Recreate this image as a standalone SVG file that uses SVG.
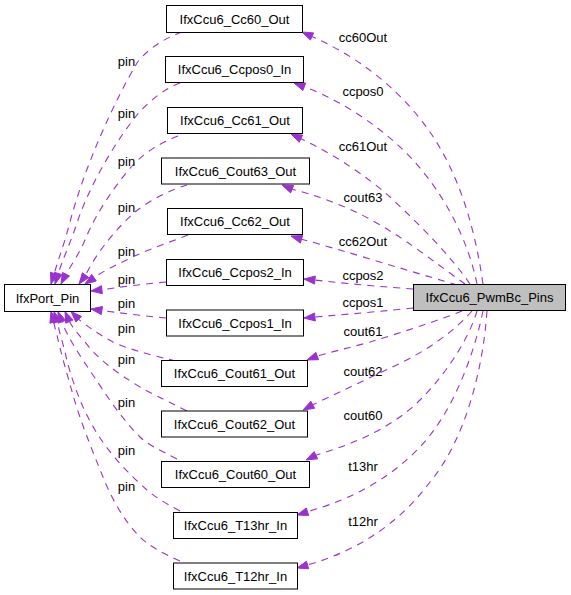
<svg xmlns="http://www.w3.org/2000/svg" width="571" height="595" viewBox="0 0 571 595">
<style>
.box{fill:#ffffff;stroke:#000000;stroke-width:1}
.main{fill:#bfbfbf;stroke:#000000;stroke-width:1}
.t{font-family:"Liberation Sans",Arial,sans-serif;font-size:13px;fill:#000000;text-anchor:middle}
.e{fill:none;stroke:#9a32cd;stroke-width:1.1;stroke-dasharray:7,6}
.a{fill:#9a32cd;stroke:#9a32cd;stroke-width:1}
</style>
<rect width="571" height="595" fill="#ffffff"/>
<g id="connectors">
<path class="e" d="M182,32 C160,40 145,52 137,63 C115,100 85,165 70,222 C64,245 58,260 54.3,273.5"/>
<polygon class="a" points="51,284 50.5,272.3 58.1,274.7"/>
<path class="e" d="M180,83 C165,88 148,102 137,115 C115,142 90,185 78,220 C71,242 63,258 58.3,273.5"/>
<polygon class="a" points="55,284 54.5,272.3 62.1,274.7"/>
<path class="e" d="M178,136 C160,143 145,152 133,165 C115,185 95,215 85,240 C80,252 72,264 66,274.2"/>
<polygon class="a" points="61,284 62.4,272.4 69.5,276"/>
<path class="e" d="M187,185 C172,189 150,200 135,212 C118,227 98,250 85.6,275.2"/>
<polygon class="a" points="79,284 82.4,272.8 88.8,277.6"/>
<path class="e" d="M188,235 C170,242 150,249 137,255 C120,263 105,270 94,277.7"/>
<polygon class="a" points="85,284 91.7,274.4 96.3,281"/>
<path class="e" d="M166,282 C145,284 120,287 101.9,289.7"/>
<polygon class="a" points="91,291 101.4,285.7 102.4,293.7"/>
<path class="e" d="M166,318 C145,316 120,313 101.9,310.5"/>
<polygon class="a" points="91,309 102.5,306.5 101.3,314.5"/>
<path class="e" d="M176,361 C150,355 125,348 113,342 C100,335 88,327 78.7,319.3"/>
<polygon class="a" points="71,311.5 81.5,316.5 75.9,322.1"/>
<path class="e" d="M187,411 C165,400 150,393 140,387 C115,372 97,358 85,342 C78,334 73,328 69.4,321.6"/>
<polygon class="a" points="65,311.5 73.1,320 65.7,323.2"/>
<path class="e" d="M177,459 C160,450 148,445 140,437 C120,417 105,393 95,378 C80,356 68,338 61.9,321.8"/>
<polygon class="a" points="58,311.5 65.6,320.4 58.1,323.2"/>
<path class="e" d="M180,511 C165,503 155,497 147,490 C130,475 110,455 95,430 C80,405 70,375 65,352 C62,340 59,331 57.3,322"/>
<polygon class="a" points="54,311.5 61.1,320.8 53.5,323.2"/>
<path class="e" d="M180,561 C160,552 148,545 140,537 C125,522 112,500 103,477 C92,450 80,420 73,395 C66,370 60,350 57,335 C55.5,330 54.5,326 53.8,322.2"/>
<polygon class="a" points="51,311.5 57.6,321.2 49.9,323.2"/>
<path class="e" d="M483,284 C476,235 462,180 432,135 C405,95 365,60 312,36.5"/>
<polygon class="a" points="302,32 313.6,32.9 310.4,40.1"/>
<path class="e" d="M477,284 C468,240 445,195 413,160 C385,130 345,102 304.3,86.7"/>
<polygon class="a" points="294,83 305.7,82.9 302.9,90.5"/>
<path class="e" d="M470,284 C450,255 420,225 390,197 C365,175 335,155 300.9,138.7"/>
<polygon class="a" points="291,134 302.6,135.1 299.2,142.3"/>
<path class="e" d="M465,284 C440,266 410,243 390,231 C362,213 330,199 292.1,189.2"/>
<polygon class="a" points="282,185 293.6,185.5 290.6,192.9"/>
<path class="e" d="M457,285 C430,277 380,262 340,250 C325,246 313,242 301.5,239.3"/>
<polygon class="a" points="291,236 302.7,235.5 300.3,243.1"/>
<path class="e" d="M413,289 C385,287 350,284 314.9,280.1"/>
<polygon class="a" points="304,279 315.3,276.1 314.5,284.1"/>
<path class="e" d="M413,308 C385,311 350,314 314.9,317"/>
<polygon class="a" points="304,318 314.5,313 315.3,321"/>
<path class="e" d="M462,311 C440,320 400,333 370,342 C352,347 335,351 317.2,356"/>
<polygon class="a" points="307,360 315.8,352.3 318.6,359.7"/>
<path class="e" d="M472,311 C455,330 430,350 390,368 C365,380 340,392 312.7,404.8"/>
<polygon class="a" points="303,410 310.8,401.3 314.6,408.3"/>
<path class="e" d="M477,311 C470,335 450,370 420,400 C395,425 360,442 315.9,455.2"/>
<polygon class="a" points="306,460 314.1,451.6 317.7,458.8"/>
<path class="e" d="M483,311 C475,350 455,410 420,447 C390,478 355,498 307.5,511.7"/>
<polygon class="a" points="297,515 306.3,507.9 308.7,515.5"/>
<path class="e" d="M487,311 C483,370 465,440 430,482 C400,522 360,550 307.6,565"/>
<polygon class="a" points="297,568 306.5,561.2 308.7,568.8"/>
<g class="t">
<text x="126.5" y="66">pin</text>
<text x="126.5" y="118">pin</text>
<text x="126.5" y="166">pin</text>
<text x="126.5" y="212">pin</text>
<text x="126.5" y="256">pin</text>
<text x="126.5" y="284">pin</text>
<text x="126.5" y="308">pin</text>
<text x="126.5" y="333">pin</text>
<text x="126.5" y="364">pin</text>
<text x="126.5" y="407">pin</text>
<text x="126.5" y="455">pin</text>
<text x="126.5" y="491">pin</text>
<text x="363" y="42">cc60Out</text>
<text x="363" y="96">ccpos0</text>
<text x="363" y="151">cc61Out</text>
<text x="363" y="202">cout63</text>
<text x="363" y="246">cc62Out</text>
<text x="363" y="279.5">ccpos2</text>
<text x="363" y="307">ccpos1</text>
<text x="363" y="336">cout61</text>
<text x="363" y="375.5">cout62</text>
<text x="363" y="420">cout60</text>
<text x="363" y="471">t13hr</text>
<text x="363" y="526">t12hr</text>
</g>
</g>
<g id="node_PwmBc_Pins"><rect class="main" x="413.5" y="284.5" width="152" height="26"/><text class="t" x="489.5" y="302">IfxCcu6_PwmBc_Pins</text></g>
<g id="node_IfxPort_Pin"><rect class="box" x="4.5" y="284.5" width="86" height="27"/><text class="t" x="47.5" y="302.5">IfxPort_Pin</text></g>
<g id="node_Cc60_Out"><rect class="box" x="166.5" y="5.5" width="136" height="27"/><text class="t" x="234.5" y="23.5">IfxCcu6_Cc60_Out</text></g>
<g id="node_Ccpos0_In"><rect class="box" x="165.5" y="56.5" width="138" height="26"/><text class="t" x="234.5" y="74">IfxCcu6_Ccpos0_In</text></g>
<g id="node_Cc61_Out"><rect class="box" x="167.5" y="107.5" width="135" height="26"/><text class="t" x="235" y="125">IfxCcu6_Cc61_Out</text></g>
<g id="node_Cout63_Out"><rect class="box" x="161.5" y="158" width="148" height="26"/><text class="t" x="235.5" y="175.5">IfxCcu6_Cout63_Out</text></g>
<g id="node_Cc62_Out"><rect class="box" x="167.5" y="208.5" width="135" height="26"/><text class="t" x="235" y="226">IfxCcu6_Cc62_Out</text></g>
<g id="node_Ccpos2_In"><rect class="box" x="166.5" y="259.5" width="137" height="26"/><text class="t" x="235" y="277">IfxCcu6_Ccpos2_In</text></g>
<g id="node_Ccpos1_In"><rect class="box" x="166.5" y="310" width="137" height="26"/><text class="t" x="235" y="327.5">IfxCcu6_Ccpos1_In</text></g>
<g id="node_Cout61_Out"><rect class="box" x="161.5" y="360.5" width="146" height="26"/><text class="t" x="234.5" y="378">IfxCcu6_Cout61_Out</text></g>
<g id="node_Cout62_Out"><rect class="box" x="161.5" y="411" width="146" height="26"/><text class="t" x="234.5" y="428.5">IfxCcu6_Cout62_Out</text></g>
<g id="node_Cout60_Out"><rect class="box" x="161.5" y="461.5" width="148" height="26"/><text class="t" x="235.5" y="479">IfxCcu6_Cout60_Out</text></g>
<g id="node_T13hr_In"><rect class="box" x="173.5" y="512.5" width="124" height="26"/><text class="t" x="235.5" y="530">IfxCcu6_T13hr_In</text></g>
<g id="node_T12hr_In"><rect class="box" x="173.5" y="563" width="124" height="26"/><text class="t" x="235.5" y="580.5">IfxCcu6_T12hr_In</text></g>
</svg>
